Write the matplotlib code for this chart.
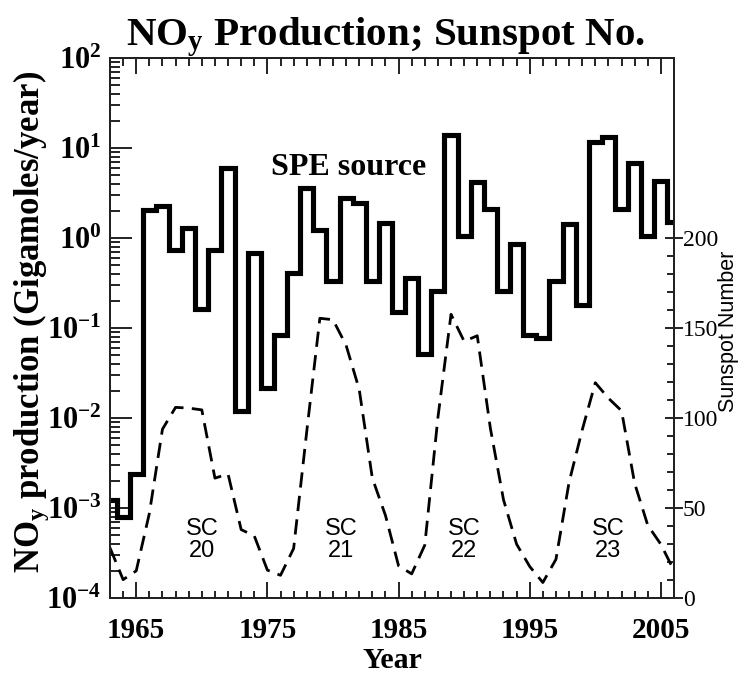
import numpy as np
import matplotlib
matplotlib.use("Agg")
import matplotlib.pyplot as plt
from matplotlib.ticker import FixedLocator, MultipleLocator, LogLocator, NullFormatter, FuncFormatter

# ---------------- data ----------------
years = list(range(1963, 2007))
spe_noy = [1.23e-3, 7.9e-4, 2.4e-3, 2.03, 2.28, 0.74, 1.29, 0.161, 0.74, 6.0,
           0.012, 0.69, 0.0216, 0.084, 0.41, 3.6, 1.23, 0.336, 2.79, 2.43,
           0.336, 1.45, 0.151, 0.357, 0.051, 0.26, 13.9, 1.06, 4.2, 2.08,
           0.255, 0.86, 0.084, 0.077, 0.336, 1.43, 0.178, 11.8, 13.3, 2.08,
           6.8, 1.06, 4.3, 1.5]
sunspot = [27.9, 10.2, 15.1, 47.0, 93.8, 105.9, 105.5, 104.5, 66.6, 68.9,
           38.0, 34.5, 15.5, 12.6, 27.5, 92.5, 155.4, 154.6, 140.4, 115.9,
           66.6, 45.9, 17.9, 13.4, 29.4, 100.2, 157.6, 142.6, 145.7, 94.3,
           54.6, 29.9, 17.5, 8.6, 21.5, 64.3, 93.3, 119.6, 111.0, 104.0,
           63.7, 40.4, 29.8, 15.2]
x_major_ticks = [1965, 1975, 1985, 1995, 2005]
ssn_major_ticks = [0, 50, 100, 150, 200]
sc_names = ["20", "21", "22", "23"]
sc_x = [1970.0, 1980.6, 1990.0, 2001.0]
sc_y = 32

plt.rcParams["font.family"] = "Liberation Serif"
plt.rcParams["font.weight"] = "bold"
plt.rcParams["mathtext.fontset"] = "custom"
plt.rcParams["mathtext.rm"] = "Liberation Serif"
plt.rcParams["mathtext.bf"] = "Liberation Serif:bold"
plt.rcParams["mathtext.it"] = "Liberation Serif:italic"

W, H = 740, 674
fig = plt.figure(figsize=(W / 100, H / 100), dpi=100)
ax = fig.add_axes([110 / W, 1 - 598 / H, 564 / W, 540 / H])

ax.set_yscale("log")
ax.set_ylim(1e-4, 1e2)
ax.set_xlim(1963, 2006)
ax.step(years, spe_noy, where="mid", color="k", lw=3.7,
        solid_joinstyle="miter", solid_capstyle="butt", zorder=3)

ax2 = ax.twinx()
ax2.set_ylim(0, 300)
ax2.plot(years, sunspot, color="k", lw=2.0, linestyle=(0, (5.5, 3.0)))

spine_c = "#222222"
for a in (ax, ax2):
    for s in a.spines.values():
        s.set_linewidth(1.4)
        s.set_color(spine_c)

px = 0.72  # points per pixel
ax.xaxis.set_major_locator(FixedLocator(x_major_ticks))
ax.xaxis.set_minor_locator(MultipleLocator(1))
ax.tick_params(axis="x", which="major", direction="in", length=16 * px,
               width=1.4, color=spine_c, top=True, bottom=True,
               labelsize=21, pad=14)
ax.tick_params(axis="x", which="minor", direction="in", length=7.5 * px,
               width=1.4, color=spine_c, top=True, bottom=True)

ax.yaxis.set_major_locator(LogLocator(base=10, numticks=20))
ax.yaxis.set_minor_locator(LogLocator(base=10, subs=np.arange(2, 10), numticks=20))
ax.yaxis.set_minor_formatter(NullFormatter())
ax.yaxis.set_major_formatter(FuncFormatter(
    lambda v, p: r"$\mathbf{10^{%d}}$" % int(round(np.log10(v)))))
ax.tick_params(axis="y", which="major", direction="in", length=22 * px,
               width=1.4, color=spine_c, labelsize=22, pad=6)
ax.tick_params(axis="y", which="minor", direction="in", length=10 * px,
               width=1.4, color=spine_c)

ax2.yaxis.set_major_locator(FixedLocator(ssn_major_ticks))
ax2.yaxis.set_minor_locator(FixedLocator(list(range(0, 201, 10))))
ax2.tick_params(axis="y", which="major", direction="inout", length=18 * px,
                width=1.4, color=spine_c, labelsize=17, pad=0)
ax2.tick_params(axis="y", which="minor", direction="in", length=7 * px,
                width=1.4, color=spine_c)
for t in ax2.get_yticklabels():
    t.set_fontweight("normal")

# labels
fig.text(386 / W, 1 - 45 / H, r"NO$_{\mathrm{y}}$ Production; Sunspot No.",
         ha="center", va="baseline", fontsize=29.5, fontweight="bold")
fig.text(39 / W, 1 - 322 / H, r"NO$_{\mathrm{y}}$ production (Gigamoles/year)",
         rotation=90, rotation_mode="anchor", ha="center", va="baseline",
         fontsize=25, fontweight="bold")
fig.text(734 / W, 1 - 331 / H, "Sunspot Number", rotation=90,
         rotation_mode="anchor", ha="center", va="baseline",
         fontsize=15.5, fontweight="normal", family="Liberation Sans")
fig.text(392 / W, 1 - 668 / H, "Year", ha="center", va="baseline",
         fontsize=21.5, fontweight="bold")

ax.text(1981.2, 5.0, "SPE source", ha="center", va="baseline",
        fontsize=23, fontweight="bold")
for name, xx in zip(sc_names, sc_x):
    ax2.text(xx, sc_y, "SC\n" + name, ha="center", va="center",
             fontsize=17, family="Liberation Sans", fontweight="normal",
             linespacing=1.0, multialignment="center")

fig.savefig("out.png", dpi=100)
